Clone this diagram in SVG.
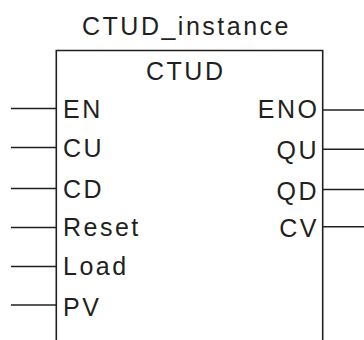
<svg xmlns="http://www.w3.org/2000/svg" width="364" height="340" viewBox="0 0 364 340">
<style>
.ln{stroke:#231f20;stroke-width:1.6;fill:none}
.t{font-family:"Liberation Sans",Arial,sans-serif;font-size:25px;fill:#231f20;letter-spacing:2.5px}
.r{text-anchor:end}
</style>
<rect width="364" height="340" fill="#fff"/>
<g id="ctud_block">
<text class="t" x="82" y="35">CTUD_instance</text>
<path class="ln" d="M56.3,340 V50.5 H322.7 V340"/>
<text class="t" x="146" y="79.5">CTUD</text>
<text class="t" x="63" y="118.3">EN</text>
<text class="t" x="63" y="156.5">CU</text>
<text class="t" x="63" y="197.5">CD</text>
<text class="t" x="63" y="235.5">Reset</text>
<text class="t" x="63" y="275">Load</text>
<text class="t" x="63" y="315.5">PV</text>
<text class="t r" x="319.5" y="118.3">ENO</text>
<text class="t r" x="319" y="158.5">QU</text>
<text class="t r" x="319" y="199.5">QD</text>
<text class="t r" x="319" y="236.5">CV</text>
</g>
<g id="connectors">
<line class="ln" x1="11" y1="108.5" x2="56.3" y2="108.5"/>
<line class="ln" x1="11" y1="147.5" x2="56.3" y2="147.5"/>
<line class="ln" x1="11" y1="188.5" x2="56.3" y2="188.5"/>
<line class="ln" x1="11" y1="227.5" x2="56.3" y2="227.5"/>
<line class="ln" x1="11" y1="266.5" x2="56.3" y2="266.5"/>
<line class="ln" x1="11" y1="305" x2="56.3" y2="305"/>
<line class="ln" x1="322.7" y1="110" x2="364" y2="110"/>
<line class="ln" x1="322.7" y1="149.3" x2="364" y2="149.3"/>
<line class="ln" x1="322.7" y1="189.5" x2="364" y2="189.5"/>
<line class="ln" x1="322.7" y1="226.7" x2="364" y2="226.7"/>
</g>
</svg>
